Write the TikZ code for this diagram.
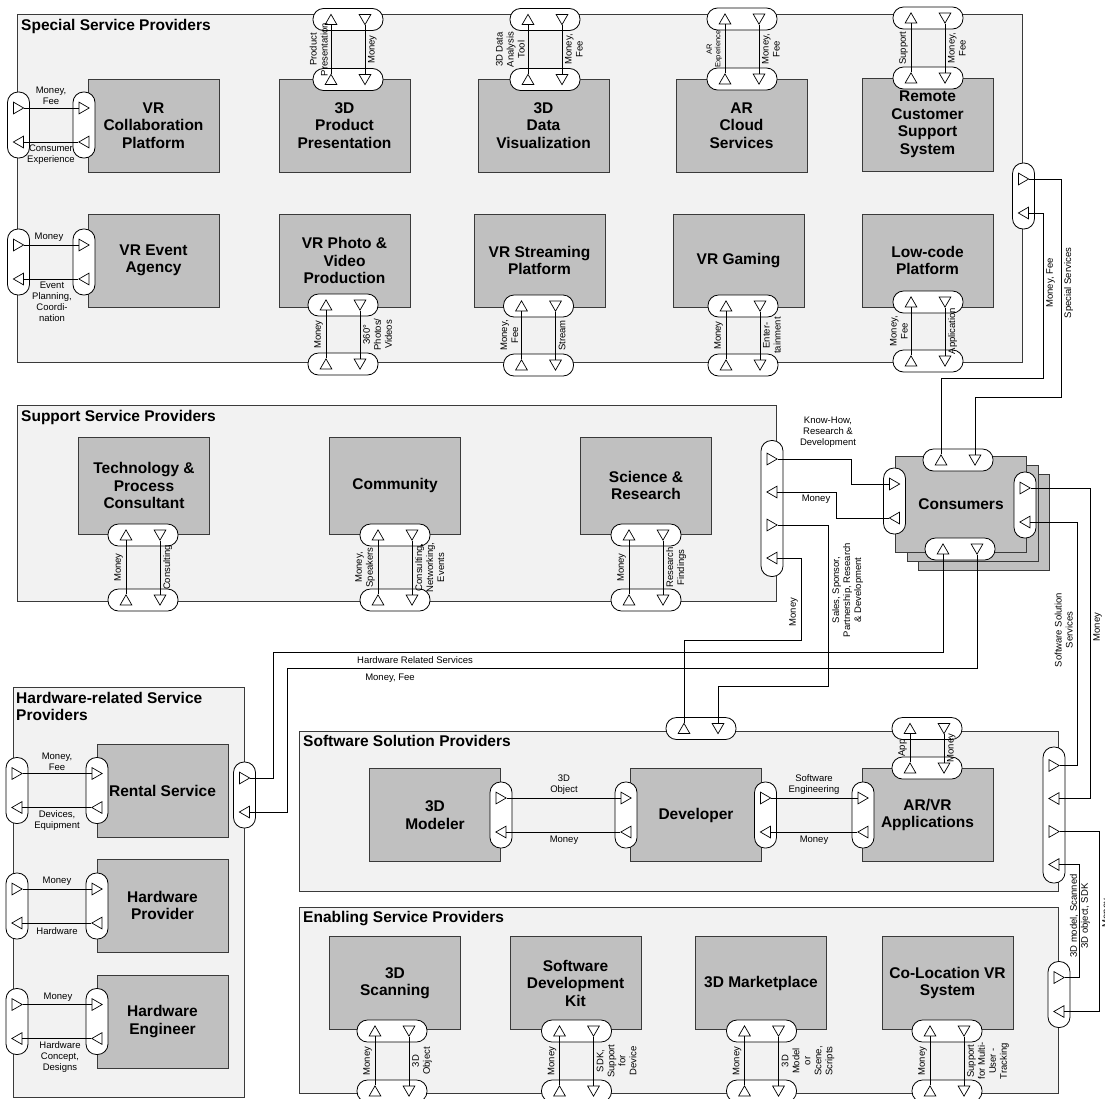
\documentclass[tikz,border=0pt]{standalone}
\usepackage{fontspec}
\setmainfont{Liberation Sans}
\usetikzlibrary{positioning,shapes.geometric,calc}
\definecolor{PanelGray}{HTML}{F2F2F2}
\definecolor{UnitGray}{HTML}{C0C0C0}
\definecolor{EdgeGray}{HTML}{3A3A3A}

% horizontal port: left triangle up, right triangle down
\newcommand{\hport}[3]{%
  \node[pill] (#1) at (#2,#3) {};
  \node[triup]   (#1-u) at ([xshift=-17pt,yshift=-1.6pt]#1.center) {};
  \node[tridown] (#1-d) at ([xshift=17pt,yshift=1.6pt]#1.center) {};
}
% vertical port: upper triangle out, lower triangle in
\newcommand{\vport}[3]{%
  \node[vpill] (#1) at (#2,#3) {};
  \node[triout] (#1-o) at ([xshift=-1.6pt,yshift=17pt]#1.center) {};
  \node[triin]  (#1-i) at ([xshift=1.6pt,yshift=-17pt]#1.center) {};
}
% vertical port with four triangles
\newcommand{\qport}[3]{%
  \node[qpill] (#1) at (#2,#3) {};
  \node[triout] (#1-a) at ([xshift=-1.6pt,yshift=49.5pt]#1.center) {};
  \node[triin]  (#1-b) at ([xshift=1.6pt,yshift=16.5pt]#1.center) {};
  \node[triout] (#1-c) at ([xshift=-1.6pt,yshift=-16.5pt]#1.center) {};
  \node[triin]  (#1-d) at ([xshift=1.6pt,yshift=-49.5pt]#1.center) {};
}

\begin{document}
\begin{tikzpicture}[
  x=1pt, y=-1pt,
  panel/.style={draw=EdgeGray, fill=PanelGray, line width=0.8pt},
  paneltitle/.style={font=\fontsize{15.5}{17.5}\selectfont\bfseries, anchor=base west, inner sep=0pt, align=left},
  unit/.style={draw=EdgeGray, fill=UnitGray, line width=0.8pt, minimum width=131pt, minimum height=93pt, inner sep=2pt, align=center, font=\fontsize{15.5}{17.5}\selectfont\bfseries},
  pill/.style={draw=black, fill=white, line width=0.8pt, rounded corners=10.5pt, minimum width=70pt, minimum height=22pt, inner sep=0pt},
  vpill/.style={pill, minimum width=22pt, minimum height=66pt},
  qpill/.style={pill, minimum width=22pt, minimum height=136pt},
  tri/.style={draw=black, fill=white, line width=0.7pt, regular polygon, regular polygon sides=3, minimum size=13.5pt, inner sep=0pt},
  triup/.style={tri, shape border rotate=0},
  tridown/.style={tri, shape border rotate=180},
  triout/.style={tri, shape border rotate=-90},
  triin/.style={tri, shape border rotate=90},
  flow/.style={draw=black, line width=0.8pt},
  lbl/.style={font=\fontsize{9.5}{11}\selectfont, align=center, inner sep=1pt},
  vlbl/.style={lbl, rotate=90}
]
\fill[white] (0,0) rectangle (1105,1098);
\useasboundingbox (0,0) rectangle (1105,1098);

% panels
\draw[panel] (17,14) rectangle (1022,362);
\node[paneltitle] at (21,30.5) {Special Service Providers};
\draw[panel] (17,405) rectangle (776,601);
\node[paneltitle] at (21,421) {Support Service Providers};
\draw[panel] (13,687) rectangle (244,1097);
\node[paneltitle, anchor=north west] at (16,692) {Hardware-related Service\\Providers};
\draw[panel] (299,731) rectangle (1058,891);
\node[paneltitle] at (303,746.5) {Software Solution Providers};
\draw[panel] (299,907) rectangle (1058,1093);
\node[paneltitle] at (303,922) {Enabling Service Providers};

% special service providers
\node[unit] (vrc) at (153.5,125.5) {VR\\Collaboration\\Platform};
\node[unit] (pp)  at (344.5,125.5) {3D\\Product\\Presentation};
\node[unit] (dv)  at (543.5,125.5) {3D\\Data\\Visualization};
\node[unit] (arc) at (741.5,125.5) {AR\\Cloud\\Services};
\node[unit] (rcs) at (927.5,124.5) {Remote\\Customer\\Support\\System};
\node[unit] (vea) at (153.5,260.5) {VR Event\\Agency};
\node[unit] (vpv) at (344.5,260.5) {VR Photo \&\\Video\\Production};
\node[unit] (vsp) at (539.5,260.5) {VR Streaming\\Platform};
\node[unit] (vrg) at (738.5,261) {VR Gaming};
\node[unit] (lcp) at (927.5,260.5) {Low-code\\Platform};

% support service providers
\node[unit, minimum height=97pt] (tpc) at (144,485.5) {Technology \&\\Process\\Consultant};
\node[unit, minimum height=97pt] (com) at (395,485.5) {Community};
\node[unit, minimum height=97pt] (snr) at (646,485.5) {Science \&\\Research};

% consumers
\node[unit, minimum height=96pt] (cons3) at (984,522.5) {};
\node[unit, minimum height=96pt] (cons2) at (972.5,513.5) {};
\node[unit, minimum height=96pt] (cons)  at (961,504.5) {Consumers};

% hardware-related service providers
\node[unit] (rsv) at (162.5,790.5) {Rental Service};
\node[unit] (hwp) at (162.5,905.5) {Hardware\\Provider};
\node[unit] (hwe) at (162.5,1021.5) {Hardware\\Engineer};

% software solution providers
\node[unit] (mdl)  at (435,815) {3D\\Modeler};
\node[unit] (dev)  at (696,815) {Developer};
\node[unit] (arvr) at (927.5,815) {AR/VR\\Applications};

% enabling service providers
\node[unit] (scn) at (395,983) {3D\\Scanning};
\node[unit] (sdk) at (575.5,983) {Software\\Development\\Kit};
\node[unit] (mkt) at (761,983) {3D Marketplace};
\node[unit] (clv) at (947.5,983) {Co-Location VR\\System};

% ports
\vport{vrcA}{18.5}{125} \vport{vrcB}{84}{125}
\hport{ppT}{348}{19.5}  \hport{ppB}{348}{79.5}
\hport{dvT}{545}{19.5}  \hport{dvB}{545}{79.5}
\hport{arT}{742}{19}    \hport{arB}{742}{79}
\hport{rcT}{928}{18}    \hport{rcB}{928}{78}
\vport{veaA}{18.5}{262} \vport{veaB}{84}{262}
\hport{vpvT}{343}{305}   \hport{vpvB}{343}{364}
\hport{vspT}{538.5}{306} \hport{vspB}{538.5}{365}
\hport{vrgT}{743}{306}   \hport{vrgB}{743}{365}
\hport{lcpT}{928}{302}   \hport{lcpB}{928}{361}
\vport{sspR}{1023.5}{196}

\hport{tpcT}{143}{535} \hport{tpcB}{143}{600}
\hport{comT}{395}{535} \hport{comB}{395}{600}
\hport{snrT}{646}{535} \hport{snrB}{646}{600}
\qport{supR}{772}{508.5}

\hport{consT}{958}{460}
\hport{consB}{960}{549}
\vport{consL}{894.5}{501}
\vport{consR}{1025}{505}

\vport{rsvA}{17}{790.5}  \vport{rsvB}{97}{790.5}
\vport{rsvR}{244.5}{795}
\vport{hwpA}{17}{906}    \vport{hwpB}{97}{906}
\vport{hweA}{17}{1021.5} \vport{hweB}{97}{1021.5}

\hport{swT}{701}{728.5}
\vport{mdlR}{501}{815} \vport{devL}{626}{815}
\vport{devR}{765.5}{815} \vport{arvrL}{863}{815}
\hport{arvrT}{927}{728.5} \hport{arvrB}{927}{768}
\qport{swR}{1054}{815}

\hport{scnT}{392}{1031}   \hport{scnB}{392}{1091}
\hport{sdkT}{576.5}{1031} \hport{sdkB}{576.5}{1091}
\hport{mktT}{761.5}{1031} \hport{mktB}{761.5}{1091}
\hport{clvT}{947}{1031}   \hport{clvB}{947}{1091}
\vport{enR}{1059}{994.5}

% flows inside the panels
\draw[flow] (vrcA-o) -- (vrcB-o);
\draw[flow] (vrcB-i) -- (vrcA-i);
\draw[flow] (ppB-u) -- (ppT-u);
\draw[flow] (ppT-d) -- (ppB-d);
\draw[flow] (dvB-u) -- (dvT-u);
\draw[flow] (dvT-d) -- (dvB-d);
\draw[flow] (arB-u) -- (arT-u);
\draw[flow] (arT-d) -- (arB-d);
\draw[flow] (rcB-u) -- (rcT-u);
\draw[flow] (rcT-d) -- (rcB-d);
\draw[flow] (veaA-o) -- (veaB-o);
\draw[flow] (veaB-i) -- (veaA-i);
\draw[flow] (vpvB-u) -- (vpvT-u);
\draw[flow] (vpvT-d) -- (vpvB-d);
\draw[flow] (vspB-u) -- (vspT-u);
\draw[flow] (vspT-d) -- (vspB-d);
\draw[flow] (vrgB-u) -- (vrgT-u);
\draw[flow] (vrgT-d) -- (vrgB-d);
\draw[flow] (lcpB-u) -- (lcpT-u);
\draw[flow] (lcpT-d) -- (lcpB-d);

\draw[flow] (tpcB-u) -- (tpcT-u);
\draw[flow] (tpcT-d) -- (tpcB-d);
\draw[flow] (comB-u) -- (comT-u);
\draw[flow] (comT-d) -- (comB-d);
\draw[flow] (snrB-u) -- (snrT-u);
\draw[flow] (snrT-d) -- (snrB-d);

\draw[flow] (rsvA-o) -- (rsvB-o);
\draw[flow] (rsvB-i) -- (rsvA-i);
\draw[flow] (hwpA-o) -- (hwpB-o);
\draw[flow] (hwpB-i) -- (hwpA-i);
\draw[flow] (hweA-o) -- (hweB-o);
\draw[flow] (hweB-i) -- (hweA-i);

\draw[flow] (mdlR-o) -- (devL-o);
\draw[flow] (devL-i) -- (mdlR-i);
\draw[flow] (devR-o) -- (arvrL-o);
\draw[flow] (arvrL-i) -- (devR-i);
\draw[flow] (arvrB-u) -- (arvrT-u);
\draw[flow] (arvrT-d) -- (arvrB-d);

\draw[flow] (scnB-u) -- (scnT-u);
\draw[flow] (scnT-d) -- (scnB-d);
\draw[flow] (sdkB-u) -- (sdkT-u);
\draw[flow] (sdkT-d) -- (sdkB-d);
\draw[flow] (mktB-u) -- (mktT-u);
\draw[flow] (mktT-d) -- (mktB-d);
\draw[flow] (clvB-u) -- (clvT-u);
\draw[flow] (clvT-d) -- (clvB-d);

% flows between the panels
\draw[flow] (sspR-o) -| (1061,397) -| (consT-d);
\draw[flow] (consT-u) |- (1043,378) |- (sspR-i);
\draw[flow] (supR-a) -| (851,470) |- (consL-o);
\draw[flow] (consL-i) -| (836,500) |- (supR-b);
\draw[flow] (supR-c) -| (828,686) -| (swT-d);
\draw[flow] (swT-u) |- (801,640) |- (supR-d);
\draw[flow] (consB-u) |- (273,652) |- (rsvR-o);
\draw[flow] (consB-d) |- (287,668) |- (rsvR-i);
\draw[flow] (consR-o) -| (1090,700) |- (swR-b);
\draw[flow] (swR-a) -| (1077,600) |- (consR-i);
\draw[flow] (swR-c) -| (1099,950) |- (enR-i);
\draw[flow] (enR-o) -| (1079,900) |- (swR-d);

% labels, special service providers
\node[lbl, anchor=south] at (51,106) {Money,\\Fee};
\node[lbl, anchor=north] at (51,144) {Consumer\\Experience};
\node[vlbl, anchor=south] at (329,49.5) {Product\\Presentation};
\node[vlbl, anchor=north] at (367,49.5) {Money};
\node[vlbl, anchor=south] at (526,49.5) {3D Data\\Analysis\\Tool};
\node[vlbl, anchor=north] at (564,49.5) {Money,\\Fee};
\node[vlbl, anchor=south, font=\fontsize{7.5}{8.5}\selectfont] at (723,49) {AR\\Experience};
\node[vlbl, anchor=north] at (761,49) {Money,\\Fee};
\node[vlbl, anchor=south] at (909,48) {Support};
\node[vlbl, anchor=north] at (947,48) {Money,\\Fee};
\node[lbl, anchor=south] at (49,243) {Money};
\node[lbl, anchor=north] at (52,281) {Event\\Planning,\\Coordi-\\nation};
\node[vlbl, anchor=south] at (324,334.5) {Money};
\node[vlbl, anchor=north] at (362,334.5) {360°\\Photos/\\Videos};
\node[vlbl, anchor=south] at (519.5,335.5) {Money,\\Fee};
\node[vlbl, anchor=north] at (557.5,335.5) {Stream};
\node[vlbl, anchor=south] at (724,335.5) {Money};
\node[vlbl, anchor=north] at (762,335.5) {Enter-\\tainment};
\node[vlbl, anchor=south] at (909,331) {Money,\\Fee};
\node[vlbl, anchor=north] at (947,331) {Application};

% labels, support service providers
\node[vlbl, anchor=south] at (124,567.5) {Money};
\node[vlbl, anchor=north] at (162,567.5) {Consulting};
\node[vlbl, anchor=south] at (376,567.5) {Money,\\Speakers};
\node[vlbl, anchor=north] at (414,567.5) {Consulting,\\Networking,\\Events};
\node[vlbl, anchor=south] at (627,567.5) {Money};
\node[vlbl, anchor=north] at (665,567.5) {Research\\Findings};

% labels, hardware-related service providers
\node[lbl, anchor=south] at (57,772) {Money,\\Fee};
\node[lbl, anchor=north] at (57,809) {Devices,\\Equipment};
\node[lbl, anchor=south] at (57,887) {Money};
\node[lbl, anchor=north] at (57,926) {Hardware};
\node[lbl, anchor=south] at (58,1003) {Money};
\node[lbl, anchor=north] at (60,1040) {Hardware\\Concept,\\Designs};

% labels, software solution providers
\node[lbl, anchor=south] at (564,796) {3D\\Object};
\node[lbl, anchor=north] at (564,835) {Money};
\node[lbl, anchor=south] at (814,796) {Software\\Engineering};
\node[lbl, anchor=north] at (814,835) {Money};
\node[vlbl, anchor=south] at (908,748) {App};
\node[vlbl, anchor=north] at (946,748) {Money};

% labels, enabling service providers
\node[vlbl, anchor=south] at (373,1061) {Money};
\node[vlbl, anchor=north] at (411,1061) {3D\\Object};
\node[vlbl, anchor=south] at (557.5,1061) {Money};
\node[vlbl, anchor=north] at (595.5,1061) {SDK,\\Support\\for\\Device};
\node[vlbl, anchor=south] at (742.5,1061) {Money};
\node[vlbl, anchor=north] at (780.5,1061) {3D\\Model\\or\\Scene,\\Scripts};
\node[vlbl, anchor=south] at (928,1061) {Money};
\node[vlbl, anchor=north] at (966,1061) {Support\\for Multi-\\User -\\Tracking};

% labels, flows between the panels
\node[vlbl, anchor=north] at (1063,283) {Special Services};
\node[vlbl, anchor=north] at (1045,283) {Money, Fee};
\node[lbl] at (828,432) {Know-How,\\Research \&\\Development};
\node[lbl, anchor=north] at (816,494) {Money};
\node[vlbl, anchor=north] at (831,590) {Sales, Sponsor,\\Partnership, Research\\\& Development};
\node[vlbl, anchor=south] at (799,612) {Money};
\node[lbl] at (415,660) {Hardware Related Services};
\node[lbl] at (390,678) {Money, Fee};
\node[vlbl, anchor=north] at (1092,627) {Money};
\node[vlbl, anchor=south] at (1074,630) {Software Solution\\Services};
\node[vlbl] at (1080,916) {3D model, Scanned\\3D object, SDK};
\node[vlbl, anchor=north] at (1101,913) {Money};
\end{tikzpicture}
\end{document}
